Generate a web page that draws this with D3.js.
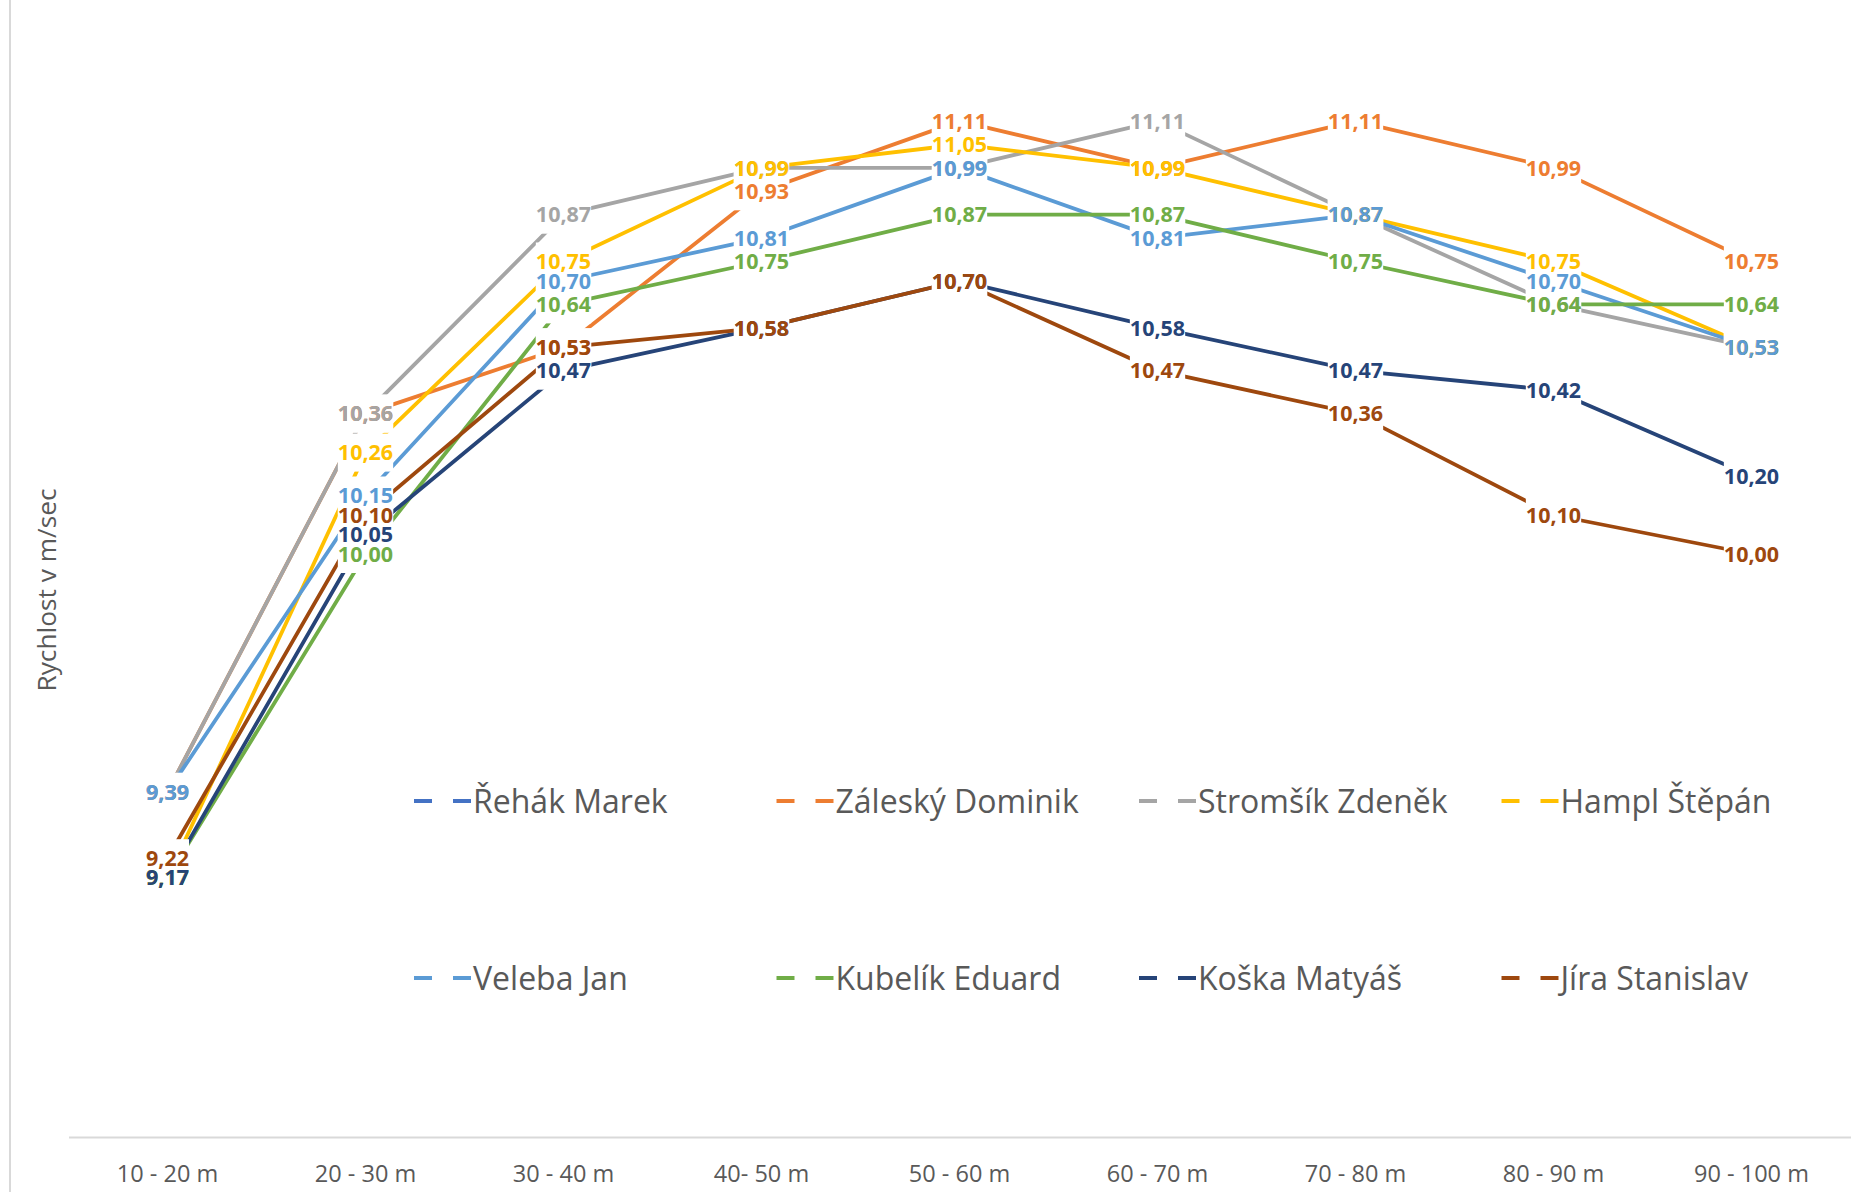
<!DOCTYPE html>
<html>
<head>
<meta charset="utf-8">
<script src="https://cdn.jsdelivr.net/npm/d3@7"></script>
<style>
  html, body { margin: 0; padding: 0; background: #ffffff; }
  svg { display: block; }
</style>
</head>
<body>
<svg id="chart" width="1876" height="1192"></svg>
<script>
const categories = ["10 - 20 m", "20 - 30 m", "30 - 40 m", "40- 50 m", "50 - 60 m", "60 - 70 m", "70 - 80 m", "80 - 90 m", "90 - 100 m"];
const seriesNames = ["Řehák Marek", "Záleský Dominik", "Stromšík Zdeněk", "Hampl Štěpán", "Veleba Jan", "Kubelík Eduard", "Koška Matyáš", "Jíra Stanislav"];
const seriesColors = ["#4472C4", "#ED7D31", "#A5A5A5", "#FFC000", "#5B9BD5", "#70AD47", "#264478", "#9E480E"];
const rehak    = [null, null, null, null, null, null, null, null, null];
const zalesky  = [9.39, 10.36, 10.53, 10.93, 11.11, 10.99, 11.11, 10.99, 10.75];
const stromsik = [9.39, 10.36, 10.87, 10.99, 10.99, 11.11, 10.87, 10.64, 10.53];
const hampl    = [9.17, 10.26, 10.75, 10.99, 11.05, 10.99, 10.87, 10.75, 10.53];
const veleba   = [9.39, 10.15, 10.70, 10.81, 10.99, 10.81, 10.87, 10.70, 10.53];
const kubelik  = [9.17, 10.00, 10.64, 10.75, 10.87, 10.87, 10.75, 10.64, 10.64];
const koska    = [9.17, 10.05, 10.47, 10.58, 10.70, 10.58, 10.47, 10.42, 10.20];
const jira     = [9.22, 10.10, 10.53, 10.58, 10.70, 10.47, 10.36, 10.10, 10.00];
const yAxisTitle = "Rychlost v m/sec";

const seriesValues = [rehak, zalesky, stromsik, hampl, veleba, kubelik, koska, jira];
const series = seriesNames.map((name, i) => ({
  name, color: seriesColors[i],
  values: seriesValues[i].map((v, j) => ({ cat: categories[j], v }))
}));

const FONT = "'Open Sans', 'Noto Sans', sans-serif";
const svg = d3.select("#chart");

const x = d3.scaleBand().domain(categories).range([68.5, 1850.5]);
const cx = c => x(c) + x.bandwidth() / 2;
const y = d3.scaleLinear().domain([8.5, 11.5]).range([1139, 1139 - 3 * 390]);

// left chart border
svg.append("line").attr("x1", 10).attr("x2", 10).attr("y1", 0).attr("y2", 1192)
  .attr("stroke", "#D9D9D9").attr("stroke-width", 2);

// category axis
const xAxis = d3.axisBottom(x).tickSize(0).tickPadding(0);
const gx = svg.append("g").attr("transform", "translate(0,1137)").call(xAxis);
gx.select(".domain").attr("stroke", "#D9D9D9").attr("stroke-width", 2);
gx.selectAll("text").attr("font-family", FONT).attr("font-size", 23.5)
  .attr("fill", "#595959").attr("dy", null).attr("y", 45);

// axis title
svg.append("text").attr("transform", "translate(56,590) rotate(-90)")
  .attr("text-anchor", "middle").attr("font-family", FONT).attr("font-size", 26.3)
  .attr("fill", "#595959").text(yAxisTitle);

// mask for lines (lines are clipped by label boxes)
const defs = svg.append("defs");
const mask = defs.append("mask").attr("id", "lblmask").attr("maskUnits", "userSpaceOnUse")
  .attr("x", 0).attr("y", 0).attr("width", 1876).attr("height", 1192);
mask.append("rect").attr("x", 0).attr("y", 0).attr("width", 1876).attr("height", 1192).attr("fill", "white");

const line = d3.line().defined(d => d.v != null).x(d => cx(d.cat)).y(d => y(d.v));
const gLines = svg.append("g").attr("mask", "url(#lblmask)");
gLines.selectAll("path").data(series).join("path")
  .attr("d", s => line(s.values)).attr("fill", "none")
  .attr("stroke", s => s.color).attr("stroke-width", 3.8)
  .attr("stroke-linejoin", "round").attr("stroke-linecap", "butt");

// data labels
const gLabels = svg.append("g");
series.forEach(s => {
  s.values.filter(d => d.v != null).forEach(d => {
    const t = gLabels.append("text")
      .attr("x", cx(d.cat)).attr("y", y(d.v)).attr("dy", "0.36em")
      .attr("text-anchor", "middle").attr("font-family", FONT)
      .attr("font-size", 21.5).attr("font-weight", 700)
      .attr("fill", s.color)
      .text(d.v.toFixed(2).replace(".", ","));
    const w = t.node().getComputedTextLength();
    mask.append("rect").attr("x", cx(d.cat) - w / 2).attr("y", y(d.v) - 19)
      .attr("width", w).attr("height", 38).attr("fill", "black");
  });
});

// legend
const legendX0 = 414, legendDX = 362.5;
const legendRows = [801, 978];
const gLeg = svg.append("g");
series.forEach((s, i) => {
  const col = i % 4, row = Math.floor(i / 4);
  const lx = legendX0 + col * legendDX, ly = legendRows[row];
  gLeg.append("line").attr("x1", lx).attr("x2", lx + 18).attr("y1", ly).attr("y2", ly)
    .attr("stroke", s.color).attr("stroke-width", 4);
  gLeg.append("line").attr("x1", lx + 39).attr("x2", lx + 57).attr("y1", ly).attr("y2", ly)
    .attr("stroke", s.color).attr("stroke-width", 4);
  gLeg.append("text").attr("x", lx + 59).attr("y", ly + 12)
    .attr("font-family", FONT).attr("font-size", 32).attr("fill", "#595959")
    .text(s.name);
});
</script>
</body>
</html>
